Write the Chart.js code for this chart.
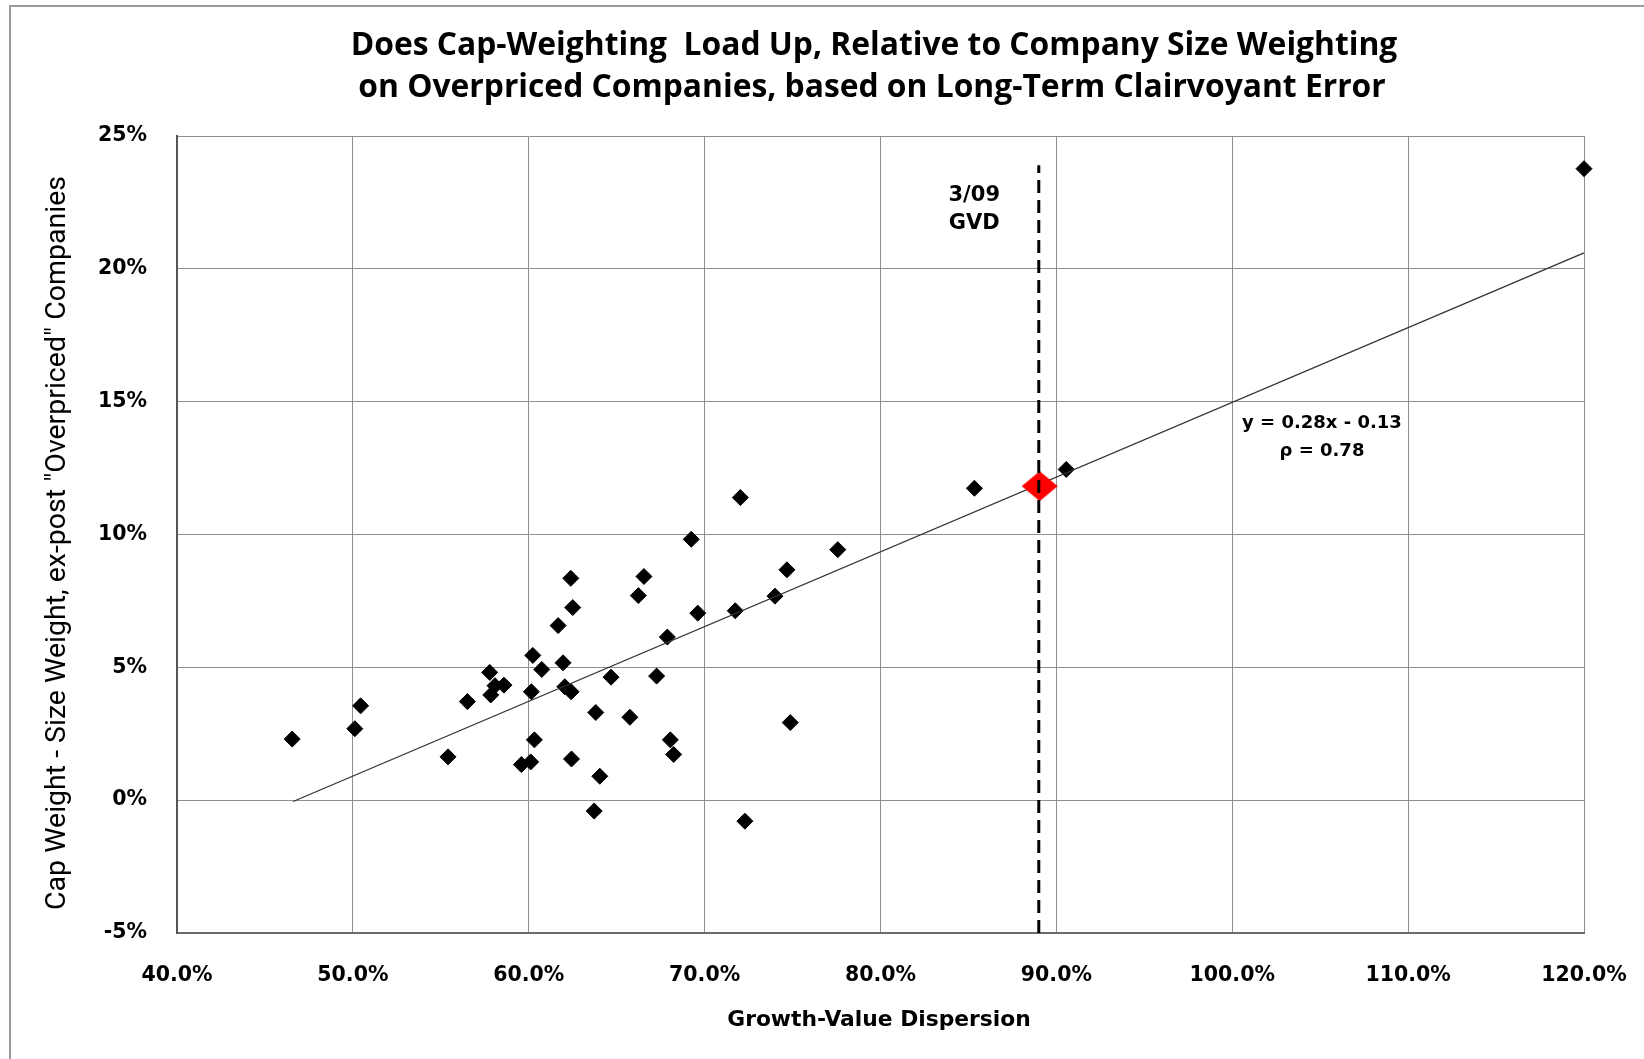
<!DOCTYPE html>
<html lang="en">
<head>
    <meta charset="UTF-8">
    <title>Cap-Weighting vs Growth-Value Dispersion</title>
    <script src="https://cdn.jsdelivr.net/npm/chart.js"></script>
    <style>
        html, body { margin: 0; padding: 0; background: #fff; overflow: hidden; }
        #wrap { width: 1644px; height: 1059px; position: relative; }
        canvas { display: block; }
    </style>
</head>
<body>
<div id="wrap"><canvas id="gvdChart"></canvas></div>

<script>
    // Growth-value dispersion (%) and cap weight minus size weight (%)
    const dispersion = [46.55, 50.11, 50.44, 55.41, 56.51, 57.78, 57.84, 58.08, 58.59, 59.58,
        60.11, 60.23, 60.15, 60.32, 60.74, 61.67, 61.95, 62.05, 62.41, 62.39,
        62.50, 62.43, 63.72, 63.81, 64.04, 64.68, 65.75, 66.23, 66.55, 67.27,
        67.88, 68.05, 68.24, 69.24, 69.61, 71.74, 72.03, 72.29, 74.00, 74.68,
        74.87, 77.57, 85.34, 90.56, 120.0];
    const excessWeight = [2.30, 2.69, 3.55, 1.63, 3.71, 4.81, 3.96, 4.31, 4.33, 1.34,
        1.44, 5.45, 4.08, 2.27, 4.92, 6.57, 5.17, 4.27, 4.08, 8.35,
        7.25, 1.55, -0.41, 3.30, 0.90, 4.63, 3.12, 7.70, 8.42, 4.67,
        6.14, 2.27, 1.72, 9.82, 7.04, 7.13, 11.39, -0.79, 7.68, 8.67,
        2.92, 9.43, 11.74, 12.45, 23.77];

    // current (3/09) reading
    const currentX = [89.05];
    const currentY = [11.82];

    // fitted line end points, y = 0.28x - 0.13
    const trendX = [46.6, 120.0];
    const trendY = [-0.05, 20.6];

    // vertical marker at 3/09 GVD
    const gvdLineX = [89.0, 89.0];
    const gvdLineY = [-5, 23.9];

    const xTicks = [40, 50, 60, 70, 80, 90, 100, 110, 120];
    const yTicks = [-5, 0, 5, 10, 15, 20, 25];

    const titleLines = ['Does Cap-Weighting  Load Up, Relative to Company Size Weighting',
        'on Overpriced Companies, based on Long-Term Clairvoyant Error'];
    const xTitle = 'Growth-Value Dispersion';
    const yTitle = 'Cap Weight - Size Weight, ex-post "Overpriced" Companies';

    // text notes placed in data units
    const gvdNotes = [
        { text: '3/09', x: 85.33, y: 22.77 },
        { text: 'GVD', x: 85.33, y: 21.69 }
    ];
    const fitNotes = [
        { text: 'y = 0.28x - 0.13', x: 105.1, y: 14.19 },
        { text: '\u03C1 = 0.78', x: 105.1, y: 13.13 }
    ];

    const toPoints = (xs, ys) => xs.map((x, i) => ({ x: x, y: ys[i] }));

    // red diamond, a bit wider than tall
    const redDiamond = document.createElement('canvas');
    redDiamond.width = 36;
    redDiamond.height = 30;
    (function () {
        const c = redDiamond.getContext('2d');
        c.fillStyle = '#ff0000';
        c.beginPath();
        c.moveTo(0, 15);
        c.lineTo(18, 0);
        c.lineTo(36, 15);
        c.lineTo(18, 30);
        c.closePath();
        c.fill();
    })();

    const tickFont = { family: 'DejaVu Sans', size: 20.5, weight: 'bold' };

    const decorations = {
        id: 'decorations',
        afterDraw(chart) {
            const ctx = chart.ctx;
            const xs = chart.scales.x, ys = chart.scales.y;
            ctx.save();
            // outer frame (top and left only)
            ctx.strokeStyle = '#9a9a9a';
            ctx.lineWidth = 2;
            ctx.beginPath();
            ctx.moveTo(10, 1059);
            ctx.lineTo(10, 6);
            ctx.lineTo(1644, 6);
            ctx.stroke();

            ctx.fillStyle = '#000';
            ctx.textAlign = 'center';
            ctx.textBaseline = 'middle';

            ctx.font = 'bold 31.8px "Open Sans"';
            ctx.fillText(titleLines[0], 874, 46);
            ctx.fillText(titleLines[1], 872, 88);

            ctx.font = 'bold 21.8px "DejaVu Sans"';
            ctx.fillText(xTitle, 879, 1020);

            ctx.save();
            ctx.translate(58, 543);
            ctx.rotate(-Math.PI / 2);
            ctx.font = '28.5px Roboto';
            ctx.fillText(yTitle, 0, 0);
            ctx.restore();

            ctx.font = 'bold 21px "DejaVu Sans"';
            gvdNotes.forEach(n => {
                ctx.fillText(n.text, xs.getPixelForValue(n.x), ys.getPixelForValue(n.y));
            });
            ctx.font = 'bold 18px "DejaVu Sans"';
            fitNotes.forEach(n => {
                ctx.fillText(n.text, xs.getPixelForValue(n.x), ys.getPixelForValue(n.y));
            });
            ctx.restore();
        }
    };

    const ctx = document.getElementById('gvdChart').getContext('2d');
    const gvdChart = new Chart(ctx, {
        type: 'scatter',
        data: {
            datasets: [
                {
                    label: '3/09 GVD',
                    data: toPoints(gvdLineX, gvdLineY),
                    showLine: true,
                    borderColor: '#000',
                    borderWidth: 3,
                    borderDash: [13, 7],
                    pointRadius: 0,
                    clip: false
                },
                {
                    label: 'Current',
                    data: toPoints(currentX, currentY),
                    pointStyle: redDiamond,
                    backgroundColor: '#ff0000',
                    borderWidth: 0,
                    clip: false
                },
                {
                    label: 'Trend',
                    data: toPoints(trendX, trendY),
                    showLine: true,
                    borderColor: '#333',
                    borderWidth: 1.3,
                    pointRadius: 0,
                    clip: false
                },
                {
                    label: 'History',
                    data: toPoints(dispersion, excessWeight),
                    pointStyle: 'rectRot',
                    pointRadius: 8,
                    backgroundColor: '#000',
                    borderColor: '#000',
                    borderWidth: 1,
                    clip: false
                }
            ]
        },
        options: {
            responsive: true,
            maintainAspectRatio: false,
            animation: false,
            events: [],
            layout: { padding: { top: 136, right: 60, bottom: 0, left: 0 } },
            plugins: {
                legend: { display: false },
                title: { display: false },
                tooltip: { enabled: false }
            },
            scales: {
                x: {
                    type: 'linear',
                    min: 40,
                    max: 120,
                    afterFit: s => {
                        s.height = 126;
                        s.paddingLeft = 0;
                        s.paddingRight = 0;
                    },
                    afterBuildTicks: s => { s.ticks = xTicks.map(v => ({ value: v })); },
                    grid: { color: '#8f8f8f', lineWidth: 1, drawTicks: false },
                    border: { color: '#6a6a6a', width: 2 },
                    ticks: {
                        padding: 30,
                        color: '#000',
                        font: tickFont,
                        maxRotation: 0,
                        callback: v => v.toFixed(1) + '%'
                    }
                },
                y: {
                    type: 'linear',
                    min: -5,
                    max: 25,
                    afterFit: s => {
                        s.width = 177;
                        s.paddingTop = 0;
                        s.paddingBottom = 0;
                    },
                    afterBuildTicks: s => { s.ticks = yTicks.map(v => ({ value: v })); },
                    grid: { color: '#8f8f8f', lineWidth: 1, drawTicks: false },
                    border: { color: '#555', width: 2 },
                    ticks: {
                        padding: 30,
                        color: '#000',
                        font: tickFont,
                        callback: v => v + '%'
                    }
                }
            }
        },
        plugins: [decorations]
    });
</script>
</body>
</html>
